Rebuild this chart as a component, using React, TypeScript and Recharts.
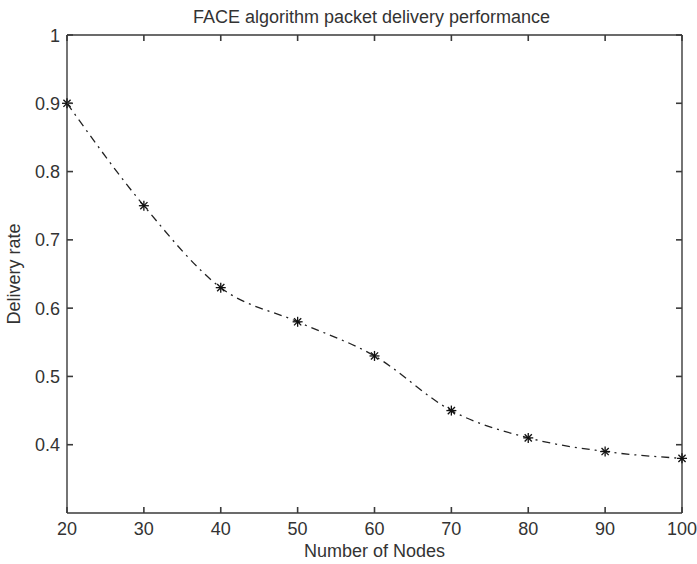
import React from "react";
import { Label, Line, LineChart, XAxis, YAxis } from "recharts";

const nodeCounts = [20, 30, 40, 50, 60, 70, 80, 90, 100];
const deliveryRates = [0.9, 0.75, 0.63, 0.58, 0.53, 0.45, 0.41, 0.39, 0.38];
const xTicks = [20, 30, 40, 50, 60, 70, 80, 90, 100];
const yTicks = [0.4, 0.5, 0.6, 0.7, 0.8, 0.9, 1];

const data = nodeCounts.map((nodes, i) => ({ nodes, rate: deliveryRates[i] }));

const FONT = "'Liberation Sans', Arial, Helvetica, sans-serif";
const INK = "#333";
const AXIS = "#3a3a3a";
const TICK_LEN = 6;
const TICK_W = 1.6;

// ticks point inward, MATLAB style
const BottomTick = (props: any) => {
  const { x, y, payload } = props;
  return (
    <g>
      <line x1={x} y1={y} x2={x} y2={y - TICK_LEN} stroke={AXIS} strokeWidth={TICK_W} />
      <text x={x} y={y + 22} textAnchor="middle" fontFamily={FONT} fontSize={18} fill={INK}>
        {payload.value}
      </text>
    </g>
  );
};

const TopTick = (props: any) => {
  const { x, y } = props;
  return <line x1={x} y1={y} x2={x} y2={y + TICK_LEN} stroke={AXIS} strokeWidth={TICK_W} />;
};

const LeftTick = (props: any) => {
  const { x, y, payload } = props;
  return (
    <g>
      <line x1={x} y1={y} x2={x + TICK_LEN} y2={y} stroke={AXIS} strokeWidth={TICK_W} />
      <text x={x - 7} y={y + 6.5} textAnchor="end" fontFamily={FONT} fontSize={18} fill={INK}>
        {payload.value}
      </text>
    </g>
  );
};

const RightTick = (props: any) => {
  const { x, y } = props;
  return <line x1={x} y1={y} x2={x - TICK_LEN} y2={y} stroke={AXIS} strokeWidth={TICK_W} />;
};

const Star = (props: any) => {
  const { cx, cy, index } = props;
  if (cx == null || cy == null) return <g key={`s-${index}`} />;
  const r = 5;
  const d = 3.6;
  return (
    <g key={`s-${index}`} stroke="#111" strokeWidth={1.3}>
      <line x1={cx - r} y1={cy} x2={cx + r} y2={cy} />
      <line x1={cx} y1={cy - r} x2={cx} y2={cy + r} />
      <line x1={cx - d} y1={cy - d} x2={cx + d} y2={cy + d} />
      <line x1={cx - d} y1={cy + d} x2={cx + d} y2={cy - d} />
    </g>
  );
};

const YTitle = (props: any) => {
  const vb = props.viewBox;
  const x = vb.x + 20;
  const y = vb.y + vb.height / 2;
  return (
    <text x={x} y={y} transform={`rotate(-90, ${x}, ${y})`} textAnchor="middle" fontFamily={FONT} fontSize={18} fill={INK}>
      Delivery rate
    </text>
  );
};

const XTitle = (props: any) => {
  const vb = props.viewBox;
  return (
    <text x={vb.x + vb.width / 2} y={vb.y + 44} textAnchor="middle" fontFamily={FONT} fontSize={18} fill={INK}>
      Number of Nodes
    </text>
  );
};

const ChartTitle = (props: any) => {
  const vb = props.viewBox;
  return (
    <text x={vb.x + vb.width / 2 - 3} y={vb.y + vb.height - 12} textAnchor="middle" fontFamily={FONT} fontSize={18} fill={INK}>
      FACE algorithm packet delivery performance
    </text>
  );
};

export default function App() {
  return (
    <div style={{ position: "absolute", left: 0, top: 0, width: 697, height: 564, background: "#fff" }}>
      <LineChart width={697} height={564} data={data} margin={{ top: 34, right: 14, bottom: 0, left: 0 }}>
        <XAxis
          dataKey="nodes"
          type="number"
          domain={[20, 100]}
          ticks={xTicks}
          interval={0}
          height={51}
          tickSize={0}
          tickMargin={0}
          tickLine={false}
          axisLine={{ stroke: AXIS, strokeWidth: 1.4 }}
          tick={BottomTick}
        >
          <Label content={XTitle} />
        </XAxis>
        <XAxis
          xAxisId="top"
          dataKey="nodes"
          type="number"
          orientation="top"
          domain={[20, 100]}
          ticks={xTicks}
          interval={0}
          height={1}
          tickSize={0}
          tickMargin={0}
          tickLine={false}
          tick={TopTick}
          axisLine={{ stroke: AXIS, strokeWidth: 1.4 }}
        >
          <Label content={ChartTitle} />
        </XAxis>
        <YAxis
          dataKey="rate"
          type="number"
          domain={[0.3, 1]}
          ticks={yTicks}
          interval={0}
          width={67}
          tickSize={0}
          tickMargin={0}
          tickLine={false}
          axisLine={{ stroke: AXIS, strokeWidth: 1.4 }}
          tick={LeftTick}
        >
          <Label content={YTitle} />
        </YAxis>
        <YAxis
          yAxisId="right"
          dataKey="rate"
          type="number"
          orientation="right"
          domain={[0.3, 1]}
          ticks={yTicks}
          interval={0}
          width={1}
          tickSize={0}
          tickMargin={0}
          tickLine={false}
          tick={RightTick}
          axisLine={{ stroke: AXIS, strokeWidth: 1.4 }}
        />
        <Line
          type="monotone"
          dataKey="rate"
          stroke="#222"
          strokeWidth={1.3}
          strokeDasharray="8 5 2 5"
          dot={Star}
          activeDot={false}
          isAnimationActive={false}
        />
      </LineChart>
    </div>
  );
}
